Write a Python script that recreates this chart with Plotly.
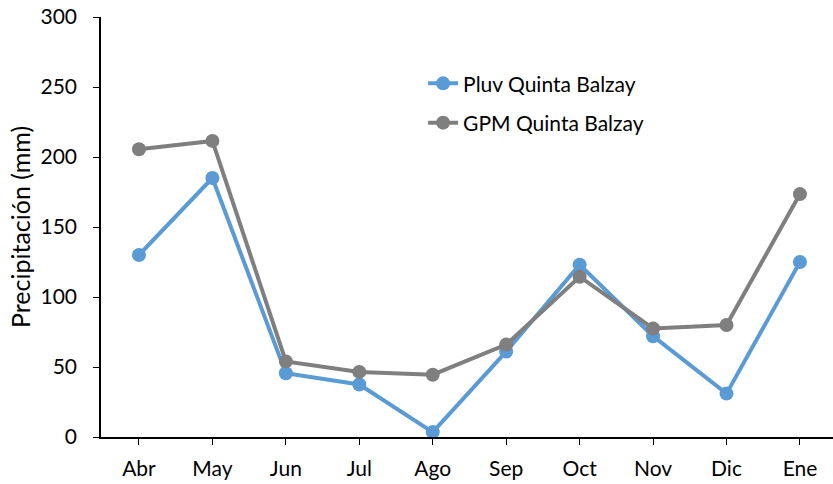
import plotly.graph_objects as go

months = ["Abr", "May", "Jun", "Jul", "Ago", "Sep", "Oct", "Nov", "Dic", "Ene"]
pluv = [130, 185, 45.5, 37.5, 3.5, 61, 123, 72, 31, 125]
gpm = [205.5, 211.5, 54, 46.5, 44.5, 66, 114.5, 77.5, 80, 173.5]
y_ticks = [0, 50, 100, 150, 200, 250, 300]

FONT = "Lato"

fig = go.Figure()
fig.add_trace(go.Scatter(x=months, y=pluv, name="Pluv Quinta Balzay", mode="lines+markers",
                         legendgroup="a",
                         line=dict(color="#5B9BD5", width=4), marker=dict(size=14, color="#5B9BD5")))
fig.add_trace(go.Scatter(x=months, y=gpm, name="GPM Quinta Balzay", mode="lines+markers",
                         legendgroup="b",
                         line=dict(color="#7F7F7F", width=4), marker=dict(size=14, color="#7F7F7F")))

fig.update_layout(
    width=833, height=484,
    margin=dict(l=101, r=0, t=17, b=47),
    paper_bgcolor="white", plot_bgcolor="white",
    font=dict(family=FONT, size=21, color="black"),
    showlegend=True,
    legend=dict(x=0.44, y=0.89, xanchor="left", yanchor="top", bgcolor="rgba(0,0,0,0)",
                font=dict(size=21), tracegroupgap=9),
    xaxis=dict(type="category", range=[-0.517, 9.45], showline=True, linecolor="black", linewidth=1.5,
               ticks="outside", ticklen=6, tickcolor="black", showgrid=False, zeroline=False,
               automargin=False, ticklabelstandoff=6),
    yaxis=dict(range=[0, 300], tickvals=y_ticks, showline=True, linecolor="black", linewidth=1.5,
               ticks="outside", ticklen=6, tickcolor="black", showgrid=False, zeroline=False,
               automargin=False, ticklabelstandoff=12, ticklabeloverflow="allow",
               title=dict(text="Precipitación (mm)", standoff=3)),
)

fig.write_html("out.html", config={"displayModeBar": False},
               post_script="document.body.style.margin='0';")
